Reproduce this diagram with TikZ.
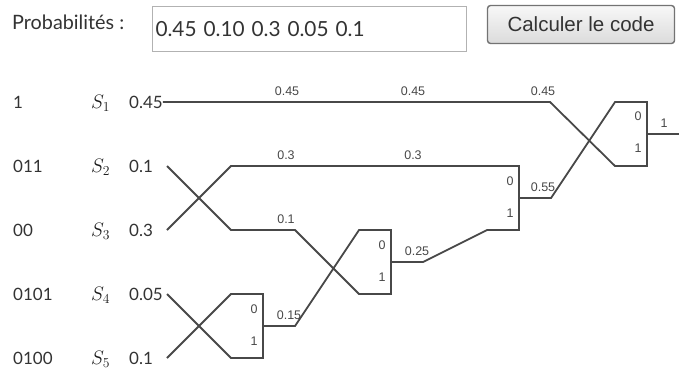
\RequirePackage{fix-cm}
\documentclass[tikz,border=0pt]{standalone}
\usepackage[no-math]{fontspec}
\setmainfont{Lato}
\newfontfamily\arialfont{Liberation Sans}
\usepackage{tikz}
\definecolor{wirecol}{HTML}{484848}
\definecolor{txtcol}{HTML}{333333}

\begin{document}
\begin{tikzpicture}[x=1pt,y=-1pt,
	wire/.style={draw=wirecol,line width=1.8pt,line join=miter},
	val/.style={font=\arialfont\fontsize{12.5}{13}\selectfont,text=wirecol,inner sep=0pt},
	row/.style={font=\fontsize{17}{20}\selectfont,text=txtcol,anchor=west,inner sep=0pt},
	button/.style={draw=black!55,line width=1.4pt,rounded corners=3pt,top color=black!3,bottom color=black!14,
		minimum width=187pt,minimum height=38pt,font=\arialfont\fontsize{20.5}{22}\selectfont,text=txtcol},
	field/.style={draw=black!30,line width=1pt,fill=white,anchor=west,inner xsep=3pt,text width=308pt,
		minimum height=45pt,align=left,font=\fontsize{20.8}{22}\selectfont,text=txtcol}]
	\useasboundingbox (0,0) rectangle (682,370);
	% header
	\node[row,font=\fontsize{19.8}{22}\selectfont] (plabel) at (12,22) {Probabilités :};
	\node[field] (probs) at (152,29) {0.45 0.10 0.3 0.05 0.1};
	\node[button] (calc) at (581,24.5) {Calculer le code};
	% symbols
	\foreach \code/\p [count=\i] in {1/0.45,011/0.1,00/0.3,0101/0.05,0100/0.1}{
		\node[row] (c\i) at (13,38+64*\i) {\code};
		\node[row,font=\fontsize{19.5}{24}\selectfont,text=black!90] (s\i) at (91,39.5+64*\i) {$S_{\i}$};
		\node[row] (p\i) at (129,38+64*\i) {\p};
		\coordinate (in\i) at (167,38+64*\i);
	}
	% gate ends
	\coordinate (a0) at (231,294); \coordinate (a1) at (231,358); \coordinate (oa) at (263,326);
	\coordinate (b0) at (359,230); \coordinate (b1) at (359,294); \coordinate (ob) at (391,262);
	\coordinate (c0) at (231,166); \coordinate (c1) at (487,230); \coordinate (oc) at (519,198);
	\coordinate (d0) at (615,102); \coordinate (d1) at (615,166); \coordinate (od) at (647,134);
	\draw[wire] (in4) -- (a1) -- ++(32,0) |- (a0) -- (in5);
	\draw[wire] (oa) -- ++(32,0) -- (b0) -- ++(32,0) |- (b1) -- ++(-64,-64) -- ++(-64,0) -- (in2);
	\draw[wire] (ob) -- ++(32,0) -- (c1) -- ++(32,0) |- (c0) -- (in3);
	\draw[wire] (oc) -- ++(32,0) -- (d0) -- ++(32,0) |- (d1) -- (550,102) -- (p1.east);
	\draw[wire] (od) -- ++(32,0);
	% weights
	\node[val] (w1) at (287,91) {0.45};
	\node[val] (w2) at (413,91) {0.45};
	\node[val] (w3) at (543,91) {0.45};
	\node[val] (w4) at (286,155) {0.3};
	\node[val] (w5) at (413,155) {0.3};
	\node[val] (w6) at (286,219) {0.1};
	\node[val] (w7) at (289,315) {0.15};
	\node[val] (w8) at (417,251) {0.25};
	\node[val] (w9) at (543,187) {0.55};
	\node[val] (w10) at (664,123) {1};
	% bits
	\foreach \g/\x/\y in {a/254/309,b/382/245,c/510/181,d/638/116}{
		\node[val] (\g-bit0) at (\x,\y) {0};
		\node[val] (\g-bit1) at (\x,\y+32) {1};
	}
\end{tikzpicture}
\end{document}
